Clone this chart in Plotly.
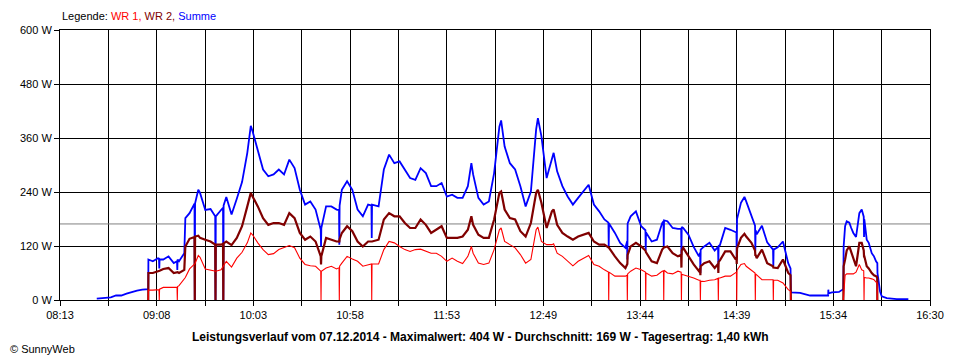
import plotly.graph_objects as go

N = None

# ---- time stamps (HH:MM or HH:MM:SS) ----
times = [
    "08:34", "08:36", "08:39", "08:42", "08:45", "08:48", "08:51", "08:54", "08:57", "09:00",
    "09:03", "09:03:25", "09:03:30", "09:06", "09:09", "09:09:33", "09:09:43", "09:09:53", "09:12", "09:15",
    "09:18", "09:19:51", "09:20:01", "09:20:11", "09:21", "09:24", "09:24:36", "09:27", "09:29:50", "09:30:00",
    "09:30:10", "09:32", "09:33", "09:36", "09:39", "09:41:40", "09:41:50", "09:42:00", "09:45", "09:46:08",
    "09:46:18", "09:46:28", "09:48", "09:51", "09:54", "09:57", "10:00", "10:02", "10:03", "10:06",
    "10:09", "10:12", "10:15", "10:18", "10:21", "10:24", "10:27", "10:30", "10:33", "10:36",
    "10:39", "10:41:57", "10:42:07", "10:42:17", "10:45", "10:48", "10:51", "10:52:24", "10:52:34", "10:52:44",
    "10:54", "10:57", "11:00", "11:03", "11:06", "11:09", "11:10:55", "11:11:05", "11:11:15", "11:15",
    "11:18", "11:21", "11:24", "11:27", "11:30", "11:33", "11:36", "11:39", "11:42", "11:45",
    "11:48", "11:51", "11:54", "11:57", "12:00", "12:03", "12:06", "12:08", "12:09", "12:12",
    "12:15", "12:18", "12:21", "12:24", "12:25", "12:27", "12:30", "12:33", "12:36", "12:39",
    "12:42", "12:45", "12:46", "12:48", "12:51", "12:54", "12:55", "12:57", "13:00", "13:03",
    "13:06", "13:09", "13:12", "13:15", "13:18", "13:21", "13:24", "13:26:18", "13:26:28", "13:26:38",
    "13:30", "13:33", "13:36", "13:36:56", "13:37:06", "13:37:16", "13:39", "13:42", "13:45", "13:47:26",
    "13:47:36", "13:47:46", "13:51", "13:54", "13:57", "13:57:44", "13:57:54", "13:58:04", "14:00", "14:03",
    "14:06", "14:07:50", "14:08:00", "14:08:10", "14:09", "14:12", "14:15", "14:18", "14:18:40", "14:18:50",
    "14:19:00", "14:21", "14:24", "14:27", "14:28:55", "14:29:05", "14:29:15", "14:30", "14:33", "14:36",
    "14:39", "14:39:26", "14:39:36", "14:39:46", "14:42", "14:44", "14:45", "14:48", "14:50:03", "14:50:13",
    "14:50:23", "14:51", "14:54", "14:57", "15:00:20", "15:00:30", "15:00:40", "15:03", "15:06", "15:09",
    "15:10:20", "15:10:30", "15:10:40", "15:15:47", "15:21:30", "15:27:12", "15:31:50", "15:31:55", "15:32:05", "15:34",
    "15:38", "15:40", "15:40:30", "15:40:40", "15:41:30", "15:42:25", "15:43:55", "15:45:00", "15:46:12", "15:47:45",
    "15:48:40", "15:49:38", "15:51:00", "15:52:09", "15:52:19", "15:52:29", "15:53:51", "15:55:00", "15:56:43", "15:58:00",
    "15:59:10", "15:59:50", "15:59:55", "16:00:00", "16:01:28", "16:02:26", "16:05:18", "16:11:00", "16:17:38",
]

# ---- WR 1 (W) ----
wr1 = [
    N, N, N, N, N, N, N, N, N, N,
    N, 0, 22, 22, 23, 23, 0, 24, 28, 28,
    27, 28, 0, 30, 32, 49, 50, 69, 80, 80,
    81, 99, 95, 69, 66, 64, 64, 64, 67, 75,
    75, 78, 86, 73, 93, 106, 127, 149, 145, 127,
    112, 101, 103, 112, 116, 121, 116, 93, 79, 76,
    75, 64, 0, 64, 71, 75, 69, 72, 0, 75,
    82, 97, 91, 86, 75, 79, 80, 0, 80, 80,
    112, 130, 127, 119, 112, 108, 112, 113, 108, 104,
    104, 97, 86, 93, 86, 81, 97, 119, 104, 82,
    79, 82, 112, 156, 160, 130, 123, 116, 101, 82,
    90, 156, 162, 130, 123, 123, 125, 104, 97, 86,
    76, 86, 93, 99, 79, 75, 67, 62, 0, 62,
    53, 53, 53, 55, 0, 58, 64, 71, 67, 62,
    0, 60, 53, 55, 64, 65, 0, 66, 60, 58,
    64, 62, 0, 57, 56, 53, 49, 44, 44, 0,
    42, 41, 44, 45, 48, 0, 49, 49, 53, 53,
    60, 62, 0, 66, 79, 81, 75, 67, 60, 0,
    58, 56, 45, 45, 45, 0, 44, 44, 38, 23,
    20, 0, N, N, N, N, N, N, N, N,
    N, N, 0, 10, 55, 58, 58, 58, 58, 62,
    70, 79, 67, 65, 0, 50, 49, 49, 47, 45,
    40, 38, 0, N, N, N, N, N, N,
]

# ---- WR 2 (W) ----
wr2 = [
    N, N, N, N, N, N, N, N, N, N,
    N, 0, 60, 60, 64, 64, 64, 65, 69, 71,
    60, 62, 62, 62, 60, 67, 119, 136, 140, 0,
    141, 143, 138, 134, 130, 123, 0, 123, 123, 125,
    0, 126, 130, 122, 138, 164, 208, 238, 230, 208,
    182, 167, 171, 171, 167, 193, 182, 149, 134, 141,
    130, 97, 79, 97, 138, 134, 130, 130, 128, 135,
    149, 164, 153, 130, 119, 130, 130, 130, 130, 134,
    179, 193, 186, 186, 171, 160, 160, 179, 167, 149,
    156, 164, 138, 138, 138, 141, 156, 186, 167, 145,
    138, 138, 179, 238, 241, 201, 182, 179, 153, 141,
    171, 238, 245, 216, 160, 197, 201, 167, 149, 141,
    134, 141, 145, 149, 130, 123, 123, 118, 116, 116,
    97, 82, 71, 80, 80, 100, 119, 127, 119, 110,
    108, 106, 86, 82, 112, 115, 115, 117, 119, 104,
    97, 100, 72, 110, 116, 97, 79, 64, 70, 55,
    75, 82, 86, 71, 80, 60, 85, 88, 108, 108,
    90, 95, 80, 115, 138, 147, 141, 127, 110, 100,
    100, 93, 112, 82, 75, 72, 72, 71, 90, 60,
    55, 0, N, N, N, N, N, N, N, N,
    N, N, 0, 75, 90, 110, 119, 105, 93, 75,
    100, 127, 127, 110, 97, 97, 75, 70, 60, 55,
    53, 50, 0, N, N, N, N, N, N,
]

# ---- Summe (W) ----
summe = [
    3, 4, 5, 6, 10, 10, 14, 18, 21, 23,
    24, 24, 90, 86, 93, 92, 70, 90, 90, 97,
    82, 86, 67, 90, 86, 104, 182, 193, 214, 0,
    215, 245, 238, 200, 202, 186, 0, 186, 200, 205,
    0, 210, 229, 190, 225, 262, 327, 387, 375, 334,
    290, 275, 279, 290, 279, 312, 293, 245, 212, 219,
    201, 156, 119, 160, 208, 208, 201, 200, 123, 210,
    245, 264, 245, 201, 186, 212, 210, 138, 212, 208,
    290, 323, 304, 308, 290, 271, 267, 293, 282, 253,
    253, 260, 230, 234, 227, 227, 253, 304, 279, 227,
    212, 219, 282, 385, 399, 341, 304, 290, 253, 208,
    241, 379, 404, 364, 271, 316, 327, 286, 253, 230,
    212, 227, 241, 256, 212, 197, 179, 172, 120, 170,
    149, 127, 116, 130, 90, 170, 186, 197, 164, 155,
    110, 150, 130, 134, 171, 175, 120, 177, 175, 160,
    158, 158, 100, 162, 160, 145, 118, 97, 105, 60,
    112, 119, 127, 110, 118, 80, 120, 122, 160, 156,
    150, 150, 95, 180, 216, 229, 219, 185, 165, 110,
    155, 146, 165, 128, 112, 75, 112, 117, 130, 82,
    70, 18, 17, 16, 10, 10, 10, 23, 15, 17,
    18, 23, 25, 119, 164, 175, 172, 160, 149, 140,
    165, 193, 201, 185, 140, 179, 134, 127, 104, 97,
    86, 82, 82, 60, 19, 8, 4, 2, 2,
]

average_w = 169
x_tick_labels = ["08:13", "09:08", "10:03", "10:58", "11:53",
                 "12:49", "13:44", "14:39", "15:34", "16:30"]
y_tick_values = [0, 120, 240, 360, 480, 600]

title_text = ("Leistungsverlauf vom 07.12.2014 - Maximalwert: 404 W - "
              "Durchschnitt: 169 W - Tagesertrag: 1,40 kWh")


def to_minutes(s):
    parts = [int(p) for p in s.split(":")]
    sec = parts[2] if len(parts) > 2 else 0
    return parts[0] * 60 + parts[1] + sec / 60.0


x = [to_minutes(t) for t in times]
x0 = to_minutes(x_tick_labels[0])
x1 = to_minutes(x_tick_labels[-1])
n_div = 2 * (len(x_tick_labels) - 1)
tickvals = [x0 + k * (x1 - x0) / n_div for k in range(n_div + 1)]
ticktext = [x_tick_labels[k // 2] if k % 2 == 0 else "" for k in range(n_div + 1)]

FONT = "Liberation Sans, Arial, sans-serif"

# page body has an 8px margin -> figure is 952x352 so it fits the 960x360 window
FIG_W, FIG_H = 952, 352
ML, MT, PW, PH = 52, 22, 870, 270

fig = go.Figure()
fig.add_trace(go.Scatter(x=[x0, x1], y=[average_w, average_w], mode="lines",
                         line=dict(color="#808080", width=1), hoverinfo="skip"))
fig.add_trace(go.Scatter(x=x, y=summe, mode="lines", name="Summe",
                         line=dict(color="#0000ff", width=1.8), connectgaps=False))
fig.add_trace(go.Scatter(x=x, y=wr2, mode="lines", name="WR 2",
                         line=dict(color="#800000", width=2.2), connectgaps=False))
fig.add_trace(go.Scatter(x=x, y=wr1, mode="lines", name="WR 1",
                         line=dict(color="#ff0000", width=1.1), connectgaps=False))

axis_common = dict(showgrid=True, gridcolor="black", gridwidth=1,
                   showline=True, linecolor="black", linewidth=1, mirror=True,
                   ticks="outside", ticklen=5, tickcolor="black", tickwidth=1,
                   zeroline=False, tickfont=dict(family=FONT, size=11, color="black"))

fig.update_xaxes(range=[x0, x1], tickmode="array", tickvals=tickvals,
                 ticktext=ticktext, **axis_common)
fig.update_yaxes(range=[0, 600], tickmode="array", tickvals=y_tick_values,
                 ticktext=[f"{v} W" for v in y_tick_values], **axis_common)

fig.update_layout(
    width=FIG_W, height=FIG_H,
    margin=dict(l=ML, r=FIG_W - ML - PW, t=MT, b=FIG_H - MT - PH),
    plot_bgcolor="white", paper_bgcolor="white",
    showlegend=False,
    font=dict(family=FONT, size=11, color="black"),
    annotations=[
        dict(xref="paper", yref="paper", x=0, y=1 + 14 / PH, xanchor="left",
             yanchor="middle", showarrow=False,
             text=("Legende: <span style='color:#ff0000'>WR 1,</span> "
                   "<span style='color:#800000'>WR 2,</span> "
                   "<span style='color:#0000ff'>Summe</span>"),
             font=dict(family=FONT, size=11, color="black")),
        dict(xref="paper", yref="paper", x=(480 - 60) / PW, y=-37 / PH,
             xanchor="center", yanchor="middle", showarrow=False,
             text="<b>" + title_text + "</b>",
             font=dict(family=FONT, size=12, color="black")),
        dict(xref="paper", yref="paper", x=-ML / PW, y=-49 / PH,
             xanchor="left", yanchor="middle", showarrow=False,
             text="© SunnyWeb",
             font=dict(family=FONT, size=11, color="black")),
    ],
)

fig.write_html("out.html")
